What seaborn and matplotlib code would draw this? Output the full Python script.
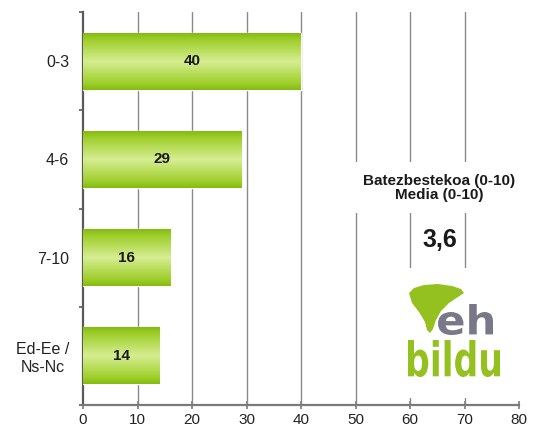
import numpy as np
import pandas as pd
import matplotlib
matplotlib.use("Agg")
import matplotlib.pyplot as plt
import seaborn as sns
from matplotlib.colors import LinearSegmentedColormap
from matplotlib.textpath import TextPath
from matplotlib.font_manager import FontProperties
from matplotlib.patches import PathPatch, Polygon, Rectangle
from matplotlib.transforms import Affine2D
from matplotlib.ticker import FixedLocator

# Data
categories = ["0-3", "4-6", "7-10", "Ed-Ee /\nNs-Nc"]
values = [40, 29, 16, 14]
x_ticks = [0, 10, 20, 30, 40, 50, 60, 70, 80]
mean_title = "Batezbestekoa (0-10)\nMedia (0-10)"
mean_value = "3,6"

sns.set_theme(style="white")
plt.rcParams["font.family"] = ["Liberation Sans", "DejaVu Sans"]

W, H = 538, 437
fig = plt.figure(figsize=(W / 100, H / 100), dpi=100)
ax = fig.add_axes([83 / W, 1 - 405 / H, (519 - 83) / W, (405 - 12) / H])

df = pd.DataFrame({"cat": categories, "val": values})
sns.barplot(data=df, x="val", y="cat", orient="h", width=0.58,
            color="#9fcd2c", saturation=1, ax=ax, zorder=3)

ax.set_xlim(0, 80)
ax.set_ylim(3.5, -0.5)
ax.set_xlabel("")
ax.set_ylabel("")

# vertical gridlines
for xv in x_ticks[1:-1]:
    ax.axvline(xv, color="#8a8a8a", lw=1.0, zorder=1)

# spines
for s in ["top", "right"]:
    ax.spines[s].set_visible(False)
ax.spines["left"].set_color("#5a5a5a")
ax.spines["left"].set_linewidth(1.6)
ax.spines["bottom"].set_color("#7a7a7a")
ax.spines["bottom"].set_linewidth(1.6)

ax.set_xticks(x_ticks)
ax.tick_params(axis="x", direction="inout", length=6, width=1.2, color="#7a7a7a",
               labelsize=11, labelcolor="#222222", pad=3, bottom=True)
ax.tick_params(axis="y", which="major", length=0, labelsize=11.5,
               labelcolor="#222222", pad=10)
ax.yaxis.set_minor_locator(FixedLocator([-0.5, 0.5, 1.5, 2.5, 3.5]))
ax.tick_params(axis="y", which="minor", direction="out", length=3, width=1.2,
               color="#5a5a5a", left=True)
for lbl in ax.get_yticklabels():
    lbl.set_horizontalalignment("right")
    lbl.set_multialignment("center")

# gradient fill for the bars
cmap = LinearSegmentedColormap.from_list(
    "greenbar",
    [(0.0, "#84bb10"), (0.12, "#9fcf2c"), (0.5, "#d6ed92"),
     (0.88, "#9fcf2c"), (1.0, "#84bb10")])
grad = np.linspace(0, 1, 256).reshape(-1, 1)
for p in ax.patches:
    x0, y0 = p.get_x(), p.get_y()
    w, h = p.get_width(), p.get_height()
    im = ax.imshow(grad, cmap=cmap, aspect="auto",
                   extent=[x0, x0 + w, y0 + h, y0], zorder=4,
                   interpolation="bilinear")
    im.set_clip_path(p)
ax.set_xlim(0, 80)
ax.set_ylim(3.5, -0.5)

# value labels
for i, v in enumerate(values):
    ax.text(v / 2, i, f"{v}", ha="center", va="center", fontsize=11,
            fontweight="bold", color="#1a1a1a", zorder=6)

# mean annotation
ax.text(65.3, 1.29, mean_title, ha="center", va="center", fontsize=11,
        fontweight="bold", color="#1a1a1a", zorder=6, linespacing=1.0,
        bbox=dict(boxstyle="square,pad=0.75", fc="white", ec="none"))
ax.text(65.4, 1.82, mean_value, ha="center", va="center", fontsize=18,
        fontweight="bold", color="#1a1a1a", zorder=6,
        bbox=dict(boxstyle="square,pad=0.15", fc="white", ec="none"))

# logo (pixel coordinates, top-left origin)
pix = Affine2D().scale(1 / W, -1 / H).translate(0, 1) + fig.transFigure
fig.patches.append(Rectangle((397, 268), 108, 130, transform=pix,
                             fc="white", ec="none", zorder=5))
leaf = [(409, 293), (414, 288), (424, 285), (438, 284), (452, 286), (461, 289),
        (464, 293), (458, 297), (449, 303), (441, 311), (436, 320), (433, 329),
        (430, 333), (427, 330), (425, 322), (419, 312), (412, 303)]
fig.patches.append(Polygon(leaf, closed=True, transform=pix,
                           fc="#94c11f", ec="none", zorder=6))

def logo_word(txt, box, color):
    fp = FontProperties(family="DejaVu Sans", weight="bold")
    tp = TextPath((0, 0), txt, size=40, prop=fp)
    ext = tp.get_extents()
    bx0, by0, bx1, by1 = box
    sx = (bx1 - bx0) / ext.width
    sy = (by1 - by0) / ext.height
    tr = (Affine2D().translate(-ext.x0, -ext.y0).scale(sx, -sy)
          .translate(bx0, by1) + pix)
    fig.patches.append(PathPatch(tp, transform=tr, fc=color, ec="none", zorder=7))

logo_word("eh", (438, 304, 493, 335), "#787888")
logo_word("bildu", (408, 340, 500, 377), "#94c11f")

fig.savefig("out.png", dpi=100, facecolor="white")
